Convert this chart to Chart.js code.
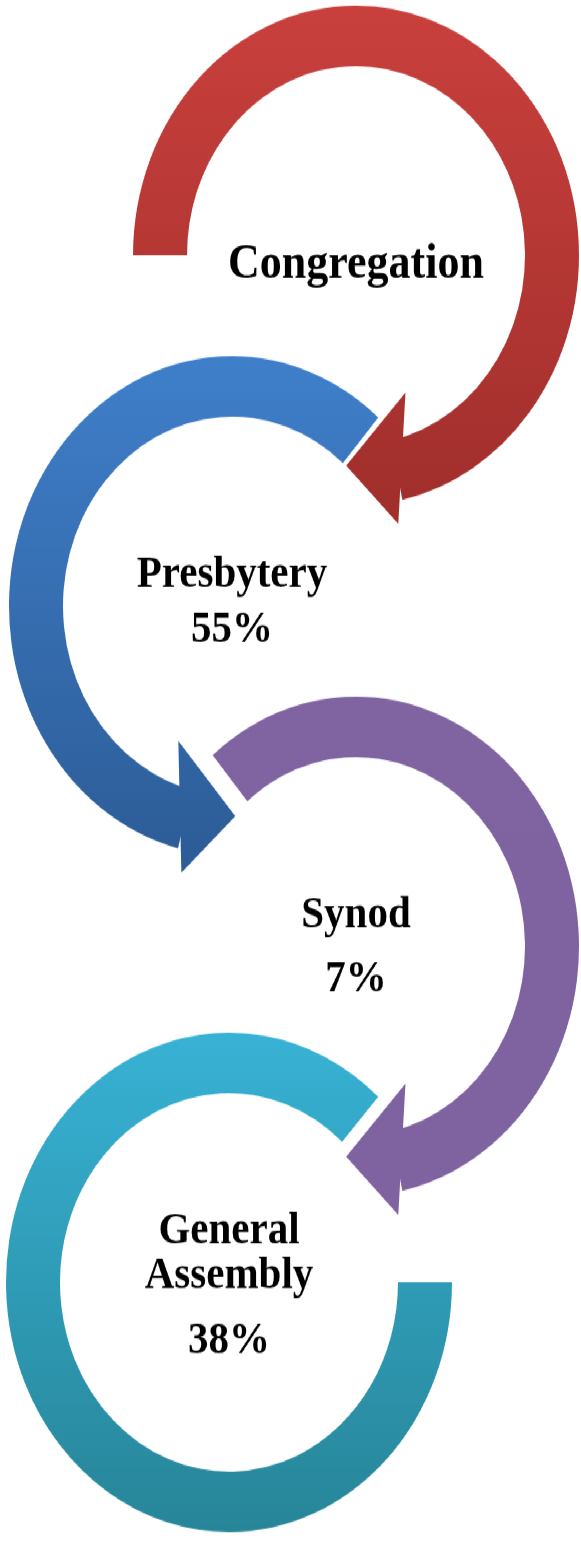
<!DOCTYPE html>
<html>
<head>
<meta charset="utf-8">
<script src="https://cdn.jsdelivr.net/npm/chart.js@4.4.1/dist/chart.umd.min.js"></script>
<style>
html,body{margin:0;padding:0;background:#ffffff;overflow:hidden;}
body{width:581px;height:1541px;}
#stage{position:relative;width:581px;height:1376px;transform:scaleY(1.12);transform-origin:0 0;}
.ring{position:absolute;width:546px;height:546px;}
</style>
</head>
<body>
<div id="stage">
  <div class="ring" id="w0"><canvas id="c0"></canvas></div>
  <div class="ring" id="w1"><canvas id="c1"></canvas></div>
  <div class="ring" id="w2"><canvas id="c2"></canvas></div>
  <div class="ring" id="w3"><canvas id="c3"></canvas></div>
</div>
<script>
// ---- data ----
const stages = ['Congregation', 'Presbytery', 'Synod', 'General Assembly'];
const shares = [null, 55, 7, 38];            // percent shown under each stage
const arcSweep = [258, 207, 208, 312];        // degrees of each circular arrow

// ---- layout / style ----
const BOX = 546, R = 223, RI = 169;
const centers = [[356, 228], [232, 541], [356, 845], [229, 1145]];
const rotations = [270, 194, 320, 90];        // chart.js rotation (deg)
const arrowAt = ['end', 'start', 'end', null];
const gradStops = [
  ['#c9403d', '#a12f2c'],
  ['#3f7fca', '#2d5d98'],
  ['#8064a2', '#7f63a1'],
  ['#38b2d5', '#278598']
];
const fontSizes = [44, 41, 41, 41];
const lineOffsets = [[20], [-17, 32], [-17, 40], [-35, 5, 63]];

function labelLines(i) {
  const lines = stages[i] === 'General Assembly' ? stages[i].split(' ') : [stages[i]];
  if (shares[i] !== null) lines.push(shares[i] + '%');
  return lines;
}

function ringGradient(ctx2d, cy, i) {
  const g = ctx2d.createLinearGradient(0, cy - R, 0, cy + R);
  g.addColorStop(0, gradStops[i][0]);
  g.addColorStop(1, gradStops[i][1]);
  return g;
}

const DEG = Math.PI / 180;
const arrowPlugin = {
  id: 'arrowHead',
  afterDatasetsDraw(chart, args, opts) {
    const mode = opts.mode;
    if (!mode) return;
    const arc = chart.getDatasetMeta(0).data[0];
    const p = arc.getProps(['x', 'y', 'startAngle', 'endAngle', 'innerRadius', 'outerRadius'], true);
    const t = p.outerRadius - p.innerRadius;
    const rm = (p.outerRadius + p.innerRadius) / 2;
    const th = mode === 'end' ? p.endAngle : p.startAngle;
    const dir = mode === 'end' ? 1 : -1;
    const pt = (a, r) => [p.x + r * Math.cos(th + dir * a * DEG), p.y + r * Math.sin(th + dir * a * DEG)];
    const v1 = pt(-10, p.innerRadius - 0.685 * t);
    const v2 = pt(2, p.outerRadius + 0.38 * t);
    const v3 = pt(15, rm - 0.15 * t);
    const ctx = chart.ctx;
    ctx.save();
    ctx.fillStyle = ringGradient(ctx, p.y, opts.idx);
    ctx.beginPath();
    ctx.moveTo(v1[0], v1[1]);
    ctx.lineTo(v2[0], v2[1]);
    ctx.lineTo(v3[0], v3[1]);
    ctx.closePath();
    ctx.fill();
    ctx.restore();
  }
};

const textPlugin = {
  id: 'centerText',
  afterDraw(chart, args, opts) {
    const arc = chart.getDatasetMeta(0).data[0];
    const { x, y } = arc.getProps(['x', 'y'], true);
    const ctx = chart.ctx;
    const lines = labelLines(opts.idx);
    ctx.save();
    ctx.fillStyle = '#000000';
    ctx.font = 'bold ' + fontSizes[opts.idx] + 'px "Liberation Serif", "Times New Roman", serif';
    ctx.textAlign = 'center';
    ctx.textBaseline = 'alphabetic';
    lines.forEach((ln, k) => ctx.fillText(ln, x, y + lineOffsets[opts.idx][k]));
    ctx.restore();
  }
};

stages.forEach((name, i) => {
  const w = document.getElementById('w' + i);
  w.style.left = (centers[i][0] - BOX / 2) + 'px';
  w.style.top = (centers[i][1] - BOX / 2) + 'px';
  new Chart(document.getElementById('c' + i), {
    type: 'doughnut',
    data: {
      labels: [name, ''],
      datasets: [{
        data: [arcSweep[i], 360 - arcSweep[i]],
        backgroundColor: (ctx) => {
          if (ctx.dataIndex !== 0) return 'rgba(0,0,0,0)';
          const ca = ctx.chart.chartArea;
          if (!ca) return gradStops[i][0];
          return ringGradient(ctx.chart.ctx, (ca.top + ca.bottom) / 2, i);
        },
        borderWidth: 0,
        hoverOffset: 0
      }]
    },
    options: {
      responsive: true,
      maintainAspectRatio: false,
      animation: false,
      events: [],
      radius: R,
      cutout: (RI / R * 100).toFixed(2) + '%',
      rotation: rotations[i],
      layout: { padding: 0 },
      plugins: {
        legend: { display: false },
        tooltip: { enabled: false },
        arrowHead: { mode: arrowAt[i], idx: i },
        centerText: { idx: i }
      }
    },
    plugins: [arrowPlugin, textPlugin]
  });
});
</script>
</body>
</html>
